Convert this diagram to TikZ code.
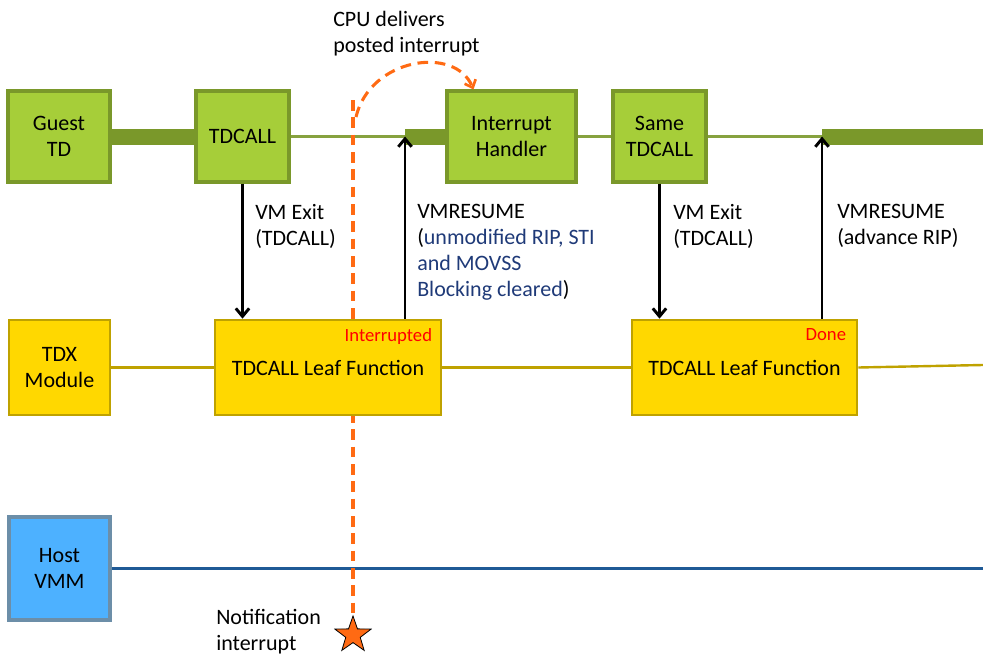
\documentclass[tikz,border=0pt]{standalone}
\usepackage{fontspec}
\setmainfont{Carlito}
\usepackage{tikz}
\usetikzlibrary{
  arrows.meta,
  positioning,
  shapes.geometric,
  backgrounds
}
\definecolor{tdgreen}{RGB}{166,206,57}
\definecolor{tdolive}{RGB}{122,152,42}
\definecolor{tdyellow}{RGB}{255,216,0}
\definecolor{tdgold}{RGB}{191,162,0}
\definecolor{vmmblue}{RGB}{77,177,255}
\definecolor{vmmedge}{RGB}{108,142,168}
\definecolor{vmmline}{RGB}{31,90,150}
\definecolor{intorange}{RGB}{255,106,19}
\definecolor{notered}{RGB}{255,0,0}
\definecolor{noteblue}{RGB}{31,58,120}

\begin{document}
\begin{tikzpicture}[
  x=0.75pt, y=-0.75pt,
  every node/.style={font=\fontsize{16.5}{19}\selectfont},
  gbox/.style={
    draw=tdolive, line width=2.3pt, fill=tdgreen,
    minimum height=68.25pt, align=center, inner sep=2pt
  },
  ybox/.style={
    draw=tdgold, line width=2pt, fill=tdyellow,
    minimum height=71.25pt, align=center, inner sep=2pt
  },
  hbox/.style={
    draw=vmmedge, line width=2.3pt, fill=vmmblue,
    minimum width=75.75pt, minimum height=77.25pt, align=center, inner sep=2pt
  },
  status/.style={anchor=north east, inner sep=0pt, text=notered,
    font=\fontsize{14}{16}\selectfont},
  lbl/.style={anchor=north west, inner sep=0pt, align=left,
    font=\fontsize{16.5}{19.5}\selectfont},
  notify/.style={star, star points=5, star point ratio=2.5, minimum size=28.5pt,
    inner sep=0pt, draw=black, line width=0.6pt, fill=intorange},
  gthick/.style={draw=tdolive, line width=12pt},
  gthin/.style={draw=tdolive!90!white, line width=2pt},
  yline/.style={draw=tdgold, line width=1.8pt},
  hline/.style={draw=vmmline, line width=2.4pt},
  arrow/.style={-{Straight Barb[length=6pt, width=10pt, line width=2.2pt]}, line width=2.2pt, draw=black},
  intr/.style={draw=intorange, line width=2.3pt, dash pattern=on 8pt off 5pt}
]
\useasboundingbox (0,0) rectangle (983,657);

\node[gbox, minimum width=76.5pt] (guest) at (59,136.5) {Guest\\TD};
\node[gbox, minimum width=69.75pt] (tdcall) at (242.5,136.5) {TDCALL};
\node[gbox, minimum width=96.75pt] (handler) at (511.5,136.5) {Interrupt\\Handler};
\node[gbox, minimum width=69.75pt] (same) at (659.5,136.5) {Same\\TDCALL};

\node[ybox, minimum width=75.75pt] (tdx) at (59.5,367.5) {TDX\\Module};
\node[ybox, minimum width=169.5pt] (leaf1) at (328,367.5) {TDCALL Leaf Function};
\node[ybox, minimum width=168.75pt] (leaf2) at (744.5,367.5) {TDCALL Leaf Function};
\node[status] (st1) at ([xshift=-7.5pt, yshift=-7.5pt]leaf1.north east) {Interrupted};
\node[status] (st2) at ([xshift=-9pt, yshift=-7.5pt]leaf2.north east) {Done};

\node[hbox] (host) at (59.5,568.5) {Host\\VMM};

\coordinate (r1) at (405,136.5);
\coordinate (r2) at (822,136.5);
\coordinate (gend) at (983,136.5);
\coordinate (yend) at (983,365);
\coordinate (hend) at (983,568.5);
\coordinate (itop) at (353,100);
\coordinate (ibend) at (356,117);

\node[notify] (notif) at (353,635) {};

% timelines behind the boxes
\begin{pgfonlayer}{background}
\draw[gthick] (guest.east) -- (tdcall.west);
\draw[gthin] (tdcall.east) -- (r1);
\draw[gthick] (r1) -- (handler.west);
\draw[gthin] (handler.east) -- (same.west);
\draw[gthin] (same.east) -- (r2);
\draw[gthick] (r2) -- (gend);
\draw[yline] (tdx.east) -- (leaf1.west);
\draw[yline] (leaf1.east) -- (leaf2.west);
\draw[yline] (leaf2.east) -- (yend);
\draw[hline] (host.east) -- (hend);
\draw[intr] (itop) -- (notif.north);
\end{pgfonlayer}

\draw[intr, -{Straight Barb[length=5pt, width=9pt, line width=2pt]}]
  (ibend) .. controls (370,58) and (455,45) .. ([xshift=21pt]handler.north west);

\draw[arrow] (tdcall.south) -- (tdcall.south |- leaf1.north);
\draw[arrow] (leaf1.north -| r1) -- (r1);
\draw[arrow] (same.south) -- (same.south |- leaf2.north);
\draw[arrow] (leaf2.north -| r2) -- (r2);

\node[lbl] (cpu) at (333,11) {CPU delivers\\posted interrupt};
\node[lbl] (exit1) at (255,204) {VM Exit\\(TDCALL)};
\node[lbl] (resume1) at (417,204) {VMRESUME\\(\textcolor{noteblue}{unmodified RIP, STI}\\\textcolor{noteblue}{and MOVSS}\\\textcolor{noteblue}{Blocking cleared})};
\node[lbl] (exit2) at (673,204) {VM Exit\\(TDCALL)};
\node[lbl] (resume2) at (837,204) {VMRESUME\\(advance RIP)};
\node[lbl] (notiftxt) at (216,609) {Notification\\interrupt};
\end{tikzpicture}
\end{document}
